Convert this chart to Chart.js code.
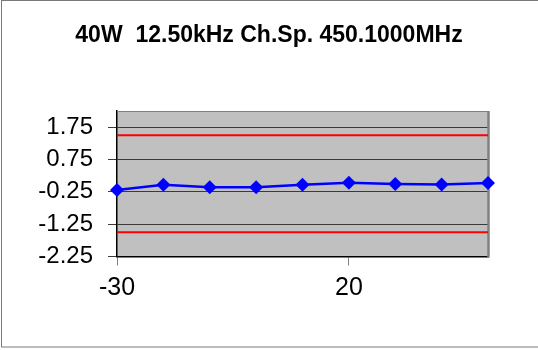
<!DOCTYPE html>
<html>
<head>
<meta charset="utf-8">
<script src="https://cdn.jsdelivr.net/npm/chart.js@4/dist/chart.umd.min.js"></script>
<style>
  html, body { margin: 0; padding: 0; background: #ffffff; }
  #wrap { width: 538px; height: 350px; position: relative; }
</style>
</head>
<body>
<div id="wrap"><canvas id="c" width="538" height="350"></canvas></div>
<script>
// Temperature steps (°C) along the x axis
const temperatures = ['-30', '-20', '-10', '0', '10', '20', '30', '40', '50'];
// Measured deviation at each temperature
const deviation = [-0.19, -0.03, -0.11, -0.11, -0.03, 0.03, -0.01, -0.02, 0.02];
// Upper and lower limit lines
const upperLimit = 1.5;
const lowerLimit = -1.5;
// Value axis ticks
const yTicks = [-2.25, -1.25, -0.25, 0.75, 1.75];
const yMin = -2.25;
const yMax = 2.25;
// Categories that carry a label on the x axis
const xLabelled = ['-30', '20'];

const titleText = '40W  12.50kHz Ch.Sp. 450.1000MHz';
const FONT = "'Liberation Sans', Arial, sans-serif";

// Gray plot background, plot frame and outer chart border
const frame = {
  id: 'frame',
  beforeDraw(chart) {
    const { ctx, chartArea: a } = chart;
    ctx.save();
    ctx.fillStyle = '#ffffff';
    ctx.fillRect(0, 0, chart.width, chart.height);
    ctx.fillStyle = '#c0c0c0';
    ctx.fillRect(a.left, a.top, a.right - a.left, a.bottom - a.top);
    ctx.restore();
  },
  beforeDatasetsDraw(chart) {
    const { ctx, chartArea: a } = chart;
    ctx.save();
    ctx.strokeStyle = '#808080';
    ctx.lineWidth = 1;
    ctx.beginPath();
    ctx.moveTo(a.left, a.top + 0.5);
    ctx.lineTo(a.right, a.top + 0.5);
    ctx.stroke();
    ctx.lineWidth = 2.5;
    ctx.beginPath();
    ctx.moveTo(a.right + 0.5, a.top);
    ctx.lineTo(a.right + 0.5, a.bottom + 1);
    ctx.stroke();
    // outer border
    ctx.strokeStyle = '#7a7a7a';
    ctx.lineWidth = 1;
    ctx.strokeRect(1.5, 0.5, chart.width + 10, 346.5);
    ctx.restore();
  }
};

const limitSet = (v) => temperatures.map(() => v);

new Chart(document.getElementById('c'), {
  type: 'line',
  data: {
    labels: temperatures,
    datasets: [
      {
        label: 'Deviation',
        data: deviation,
        borderColor: '#0000ff',
        backgroundColor: '#0000ff',
        borderWidth: 2.5,
        pointStyle: 'rectRot',
        pointRadius: 7,
        pointHoverRadius: 7,
        pointBorderWidth: 0,
        tension: 0,
        order: 0
      },
      {
        label: 'Upper limit',
        data: limitSet(upperLimit),
        borderColor: '#ff0000',
        borderWidth: 2.2,
        pointRadius: 0,
        order: 1
      },
      {
        label: 'Lower limit',
        data: limitSet(lowerLimit),
        borderColor: '#ff0000',
        borderWidth: 2.2,
        pointRadius: 0,
        order: 1
      }
    ]
  },
  options: {
    responsive: false,
    animation: false,
    events: [],
    layout: { padding: 0 },
    plugins: {
      legend: { display: false },
      tooltip: { enabled: false },
      title: {
        display: true,
        text: titleText,
        color: '#000000',
        font: { family: FONT, size: 23, weight: 'bold' },
        padding: { top: 22, bottom: 61.4 }
      }
    },
    scales: {
      x: {
        type: 'category',
        offset: false,
        border: { display: true, color: '#000000', width: 1.5 },
        grid: {
          drawOnChartArea: false,
          drawTicks: true,
          tickLength: 9,
          color: (ctx) => (ctx.tick && xLabelled.includes(temperatures[ctx.index])) ? '#808080' : 'rgba(0,0,0,0)'
        },
        ticks: {
          autoSkip: false,
          maxRotation: 0,
          padding: 8,
          color: '#000000',
          font: { family: FONT, size: 25 },
          callback: (v, i) => xLabelled.includes(temperatures[i]) ? temperatures[i] : ''
        },
        afterFit: (s) => { s.height = 350 - 256.5; }
      },
      y: {
        min: yMin,
        max: yMax,
        border: { display: true, color: '#000000', width: 1.5 },
        afterBuildTicks: (s) => { s.ticks = yTicks.map(v => ({ value: v })); },
        grid: {
          drawOnChartArea: true,
          drawTicks: true,
          tickLength: 9,
          color: '#3a3a3a',
          lineWidth: 1
        },
        ticks: {
          padding: 15,
          color: '#000000',
          font: { family: FONT, size: 24 },
          callback: (v) => v.toFixed(2)
        },
        afterFit: (s) => { s.width = 117; }
      },
      // empty right-hand axis that reserves the white margin beside the plot
      yRight: {
        position: 'right',
        min: yMin,
        max: yMax,
        grid: { display: false },
        border: { display: false },
        ticks: { display: false },
        afterFit: (s) => { s.width = 50; }
      }
    }
  },
  plugins: [frame]
});
</script>
</body>
</html>
